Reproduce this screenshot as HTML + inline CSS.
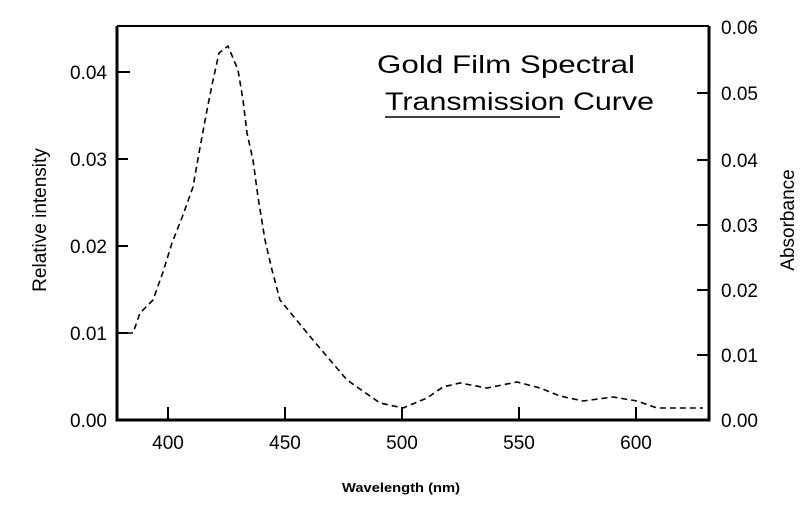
<!DOCTYPE html>
<html><head><meta charset="utf-8"><style>
html,body{margin:0;padding:0;background:#fff;}
svg{display:block;}
text{font-family:"Liberation Sans",Arial,sans-serif;fill:#000;}
</style></head><body>
<svg width="811" height="513" viewBox="0 0 811 513" xmlns="http://www.w3.org/2000/svg">
<g stroke="#000" fill="none">
<path d="M117 26 L117 420 L709 420 L709 26" stroke-width="3"/>
<line x1="117" y1="26" x2="709" y2="26" stroke-width="2"/>
<g stroke-width="2">
<line x1="117" y1="333" x2="128" y2="333"/>
<line x1="117" y1="246" x2="128" y2="246"/>
<line x1="117" y1="159" x2="128" y2="159"/>
<line x1="117" y1="72" x2="130" y2="72"/>
<line x1="168" y1="420" x2="168" y2="407"/>
<line x1="285" y1="420" x2="285" y2="407"/>
<line x1="402" y1="420" x2="402" y2="407"/>
<line x1="519" y1="420" x2="519" y2="407"/>
<line x1="636" y1="420" x2="636" y2="407"/>
<line x1="709" y1="355" x2="697" y2="355"/>
<line x1="709" y1="290" x2="697" y2="290"/>
<line x1="709" y1="225" x2="697" y2="225"/>
<line x1="709" y1="160" x2="697" y2="160"/>
<line x1="709" y1="93" x2="697" y2="93"/>
</g>
<path d="M127 333 L133 333 L140 313 L153 300 L163 272 L172 243 L183 215 L193 187 L199 153 L207 110 L212 85 L219 53 L228 46 L238 70 L243 100 L247 133 L253 160 L258 197 L265 240 L272 270 L280 300 L313 340 L347 380 L380 403 L403 408 L427 398 L443 387 L460 383 L487 388 L517 382 L540 388 L560 396 L583 401 L613 397 L637 401 L657 408 L703 408" stroke-width="1.6" stroke-dasharray="6,4"/>
<line x1="385" y1="117" x2="560" y2="117" stroke-width="1.5"/>
</g>
<g font-size="19">
<text x="107" y="79" text-anchor="end">0.04</text>
<text x="107" y="166" text-anchor="end">0.03</text>
<text x="107" y="253" text-anchor="end">0.02</text>
<text x="107" y="340" text-anchor="end">0.01</text>
<text x="107" y="427" text-anchor="end">0.00</text>
<text x="168" y="449" text-anchor="middle">400</text>
<text x="285" y="449" text-anchor="middle">450</text>
<text x="402" y="449" text-anchor="middle">500</text>
<text x="519" y="449" text-anchor="middle">550</text>
<text x="636" y="449" text-anchor="middle">600</text>
<text x="721" y="34">0.06</text>
<text x="721" y="100">0.05</text>
<text x="721" y="167">0.04</text>
<text x="721" y="232">0.03</text>
<text x="721" y="297">0.02</text>
<text x="721" y="362">0.01</text>
<text x="721" y="427">0.00</text>
</g>
<text x="342" y="492" font-size="13" font-weight="bold" textLength="118" lengthAdjust="spacingAndGlyphs">Wavelength (nm)</text>
<text transform="translate(46,220) rotate(-90)" font-size="19" text-anchor="middle">Relative intensity</text>
<text transform="translate(794,220) rotate(-90)" font-size="19" text-anchor="middle">Absorbance</text>
<text x="377" y="73" font-size="25" textLength="258" lengthAdjust="spacingAndGlyphs">Gold Film Spectral</text>
<text x="385" y="110" font-size="25" textLength="269" lengthAdjust="spacingAndGlyphs">Transmission Curve</text>
</svg>
</body></html>
